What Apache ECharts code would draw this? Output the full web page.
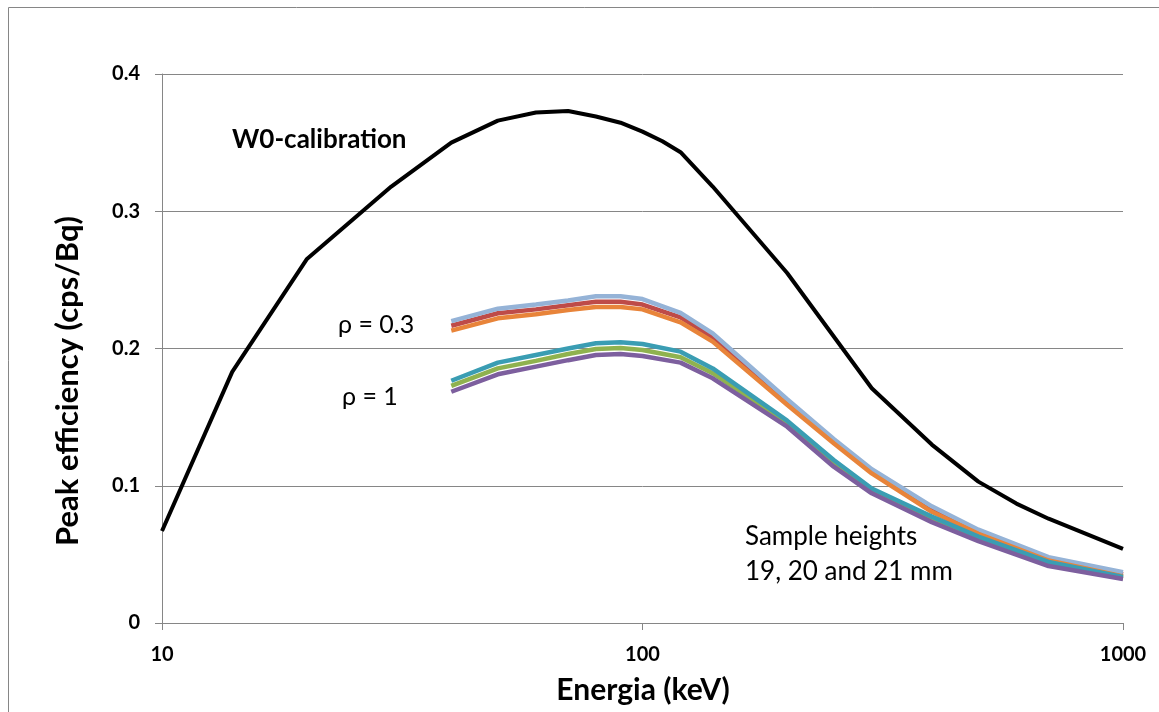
<!DOCTYPE html>
<html>
<head>
<meta charset="utf-8">
<title>Peak efficiency</title>
<script src="https://cdn.jsdelivr.net/npm/echarts@6/dist/echarts.min.js"></script>
<style>
  html, body { margin: 0; padding: 0; background: #fff; }
  #chart { width: 1159px; height: 712px; }
</style>
</head>
<body>
<div id="chart"></div>
<script>
// energies (keV)
const calEnergies = [10, 14, 20, 30, 40, 50, 60, 70, 80, 90, 100, 110, 120, 140, 200, 300, 400, 500, 600, 700, 1000]
const w0Calibration = [0.067, 0.183, 0.265, 0.318, 0.350, 0.366, 0.372, 0.373, 0.369, 0.3645, 0.358, 0.351, 0.343, 0.318, 0.255, 0.171, 0.130, 0.103, 0.087, 0.076, 0.054]

const sampleEnergies = [40, 50, 60, 70, 80, 90, 100, 120, 140, 200, 250, 300, 400, 500, 700, 1000]
// rho = 0.3
const rho03h21 = [0.220, 0.229, 0.232, 0.235, 0.238, 0.238, 0.236, 0.226, 0.211, 0.163, 0.134, 0.112, 0.085, 0.068, 0.048, 0.037]
const rho03h20 = [0.2166, 0.2257, 0.2285, 0.2315, 0.234, 0.234, 0.232, 0.2227, 0.2082, 0.161, 0.1325, 0.1108, 0.083, 0.0665, 0.047, 0.0355]
const rho03h19 = [0.213, 0.222, 0.2249, 0.228, 0.2302, 0.2302, 0.2285, 0.2191, 0.205, 0.159, 0.131, 0.109, 0.081, 0.065, 0.0455, 0.034]
// rho = 1
const rho1h21 = [0.1765, 0.1897, 0.1953, 0.200, 0.2038, 0.2045, 0.2033, 0.1977, 0.1855, 0.1474, 0.1188, 0.098, 0.0775, 0.0629, 0.0445, 0.0335]
const rho1h20 = [0.1727, 0.1855, 0.191, 0.196, 0.1996, 0.2003, 0.1989, 0.1936, 0.182, 0.1455, 0.1165, 0.096, 0.0755, 0.061, 0.043, 0.0325]
const rho1h19 = [0.1685, 0.1812, 0.1868, 0.1915, 0.1953, 0.196, 0.1945, 0.1897, 0.1783, 0.143, 0.1139, 0.0945, 0.0735, 0.0597, 0.0415, 0.032]

const yTicks = [0, 0.1, 0.2, 0.3, 0.4]

const pairs = (xs, ys) => xs.map((x, i) => [x, ys[i]])
const font = 'Lato, "Open Sans", sans-serif'
const gray = '#868686'

function line(name, xs, ys, color, width) {
  return {
    name: name,
    type: 'line',
    data: pairs(xs, ys),
    symbol: 'none',
    lineStyle: { color: color, width: width },
    itemStyle: { color: color }
  }
}

function label(text, x, y, size, bold) {
  return {
    type: 'text', x: x, y: y,
    style: { text: text, font: (bold ? 'bold ' : '') + size + 'px ' + font, fill: '#000', align: 'left', verticalAlign: 'middle' }
  }
}

const chart = echarts.init(document.getElementById('chart'))
chart.setOption({
  animation: false,
  backgroundColor: '#fff',
  grid: { left: 162, right: 36, top: 74, bottom: 89 },
  xAxis: {
    type: 'log',
    logBase: 10,
    min: 10,
    max: 1000,
    axisLine: { show: true, lineStyle: { color: gray, width: 1 } },
    axisTick: { show: true, inside: false, length: 7, lineStyle: { color: gray } },
    axisLabel: {
      fontFamily: font, fontWeight: 'bold', fontSize: 20, color: '#000', margin: 22,
      formatter: (v) => String(v)
    },
    splitLine: { show: false },
    minorTick: { show: false }
  },
  yAxis: {
    type: 'value',
    min: yTicks[0],
    max: yTicks[yTicks.length - 1],
    interval: 0.1,
    axisLine: { show: true, lineStyle: { color: gray, width: 1 } },
    axisTick: { show: true, inside: false, length: 7, lineStyle: { color: gray } },
    axisLabel: { fontFamily: font, fontWeight: 'bold', fontSize: 20, color: '#000', margin: 22 },
    splitLine: { show: true, lineStyle: { color: gray, width: 1 } }
  },
  graphic: [
    {
      type: 'rect', silent: true, z: -1,
      shape: { x: 8.5, y: 7.5, width: 1300, height: 800 },
      style: { fill: 'none', stroke: gray, lineWidth: 1 }
    },
    {
      type: 'text', x: 68, y: 381, rotation: Math.PI / 2,
      style: { text: 'Peak efficiency (cps/Bq)', font: 'bold 31px ' + font, fill: '#000', align: 'center', verticalAlign: 'middle' }
    },
    {
      type: 'text', x: 643, y: 690,
      style: { text: 'Energia (keV)', font: 'bold 30px ' + font, fill: '#000', align: 'center', verticalAlign: 'middle' }
    },
    label('W0-calibration', 232, 140, 26, true),
    label('ρ = 0.3', 338, 325, 25, false),
    label('ρ = 1', 342, 397, 25, false),
    label('Sample heights', 745, 537, 26, false),
    label('19, 20 and 21 mm', 745, 572, 26, false)
  ],
  series: [
    line('ρ=0.3, 20 mm', sampleEnergies, rho03h20, '#BE4B48', 4.5),
    line('ρ=1, 20 mm', sampleEnergies, rho1h20, '#8FB24F', 4.5),
    line('ρ=0.3, 21 mm', sampleEnergies, rho03h21, '#95B3D7', 4.5),
    line('ρ=0.3, 19 mm', sampleEnergies, rho03h19, '#E8843A', 4.5),
    line('ρ=1, 21 mm', sampleEnergies, rho1h21, '#3A9DB3', 4.5),
    line('ρ=1, 19 mm', sampleEnergies, rho1h19, '#7D5F9E', 4.5),
    line('W0-calibration', calEnergies, w0Calibration, '#000', 4)
  ]
})
</script>
</body>
</html>
